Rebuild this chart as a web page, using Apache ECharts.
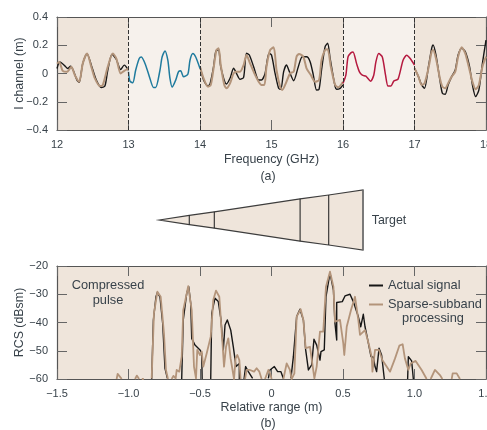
<!DOCTYPE html>
<html>
<head>
<meta charset="utf-8">
<style>
  html, body { margin: 0; padding: 0; background: #fff; }
  #chart { width: 487px; height: 430px; }
</style>
<script src="https://cdn.jsdelivr.net/npm/echarts@6/dist/echarts.min.js"></script>
</head>
<body>
<div id="chart"></div>
<script>
// (a) I channel, [GHz, m]. null breaks the line where the subband is not measured
var actualI = [
  [12,.035],[12.04,.082],[12.11,.054],[12.15,.035],[12.19,.052],[12.23,.019],[12.28,-.047],[12.31,-.063],[12.36,.07],[12.42,.141],
  [12.48,.059],[12.55,-.047],[12.62,-.099],[12.67,-.089],[12.71,.023],[12.77,.136],[12.83,.099],[12.89,.028],[12.94,.059],[13,.023],
  [13.5,null],
  [14,.048],[14.05,-.046],[14.11,-.088],[14.14,-.074],[14.19,.048],[14.22,.155],[14.26,.171],[14.29,.048],[14.37,-.074],[14.42,-.034],
  [14.47,.037],[14.51,.001],[14.56,-.041],[14.61,-.027],[14.65,.143],[14.69,.131],[14.75,.048],[14.82,-.046],[14.86,-.046],[14.91,.001],
  [14.965,.143],[15,.131],[15.05,.001],[15.1,-.105],[15.13,-.112],[15.17,.013],[15.21,.06],[15.25,.013],[15.31,-.051],[15.375,.048],
  [15.43,.119],[15.49,.119],[15.54,.084],[15.585,-.011],[15.63,-.117],[15.665,-.112],[15.7,.025],[15.75,.19],[15.785,.214],[15.82,.107],
  [15.89,-.093],[15.91,-.112],[15.96,-.105],[16,-.081],
  [16.5,null],
  [17,.037],[17.055,-.022],[17.1,-.081],[17.14,-.105],[17.195,.048],[17.24,.178],[17.26,.202],[17.3,.131],[17.355,-.046],[17.39,-.14],
  [17.43,-.147],[17.47,-.081],[17.52,-.022],[17.57,.025],[17.61,.131],[17.66,.178],[17.71,.155],[17.77,.048],[17.81,-.081],[17.855,-.164],
  [17.9,-.117],[17.95,.072],[18,.237]
];
var sparseI = [
  [12,.07],[12.03,.082],[12.08,.019],[12.14,.012],[12.2,.047],[12.25,-.012],[12.31,-.059],[12.36,.07],[12.42,.141],[12.48,.047],
  [12.53,-.035],[12.6,-.089],[12.64,-.082],[12.71,.047],[12.78,.141],[12.83,.106],[12.89,0],[12.94,.019],[13,.035],
  [13.5,null],
  [14,.048],[14.05,-.034],[14.11,-.093],[14.15,-.081],[14.19,.037],[14.23,.166],[14.26,.178],[14.29,.06],[14.34,-.081],[14.37,-.105],
  [14.42,-.07],[14.47,.001],[14.51,.013],[14.56,.013],[14.61,.06],[14.65,.131],[14.7,.072],[14.76,.001],[14.82,-.058],[14.86,-.081],
  [14.9,-.081],[14.93,.048],[14.98,.166],[15.03,.185],[15.07,.025],[15.12,-.093],[15.15,-.117],[15.2,-.07],[15.26,.001],[15.31,.013],
  [15.35,.119],[15.385,.138],[15.445,.119],[15.49,.037],[15.55,-.011],[15.61,-.058],[15.665,-.046],[15.7,.096],[15.75,.166],[15.785,.171],
  [15.83,.048],[15.89,-.081],[15.935,-.098],[16,-.058],
  [16.5,null],
  [17,.037],[17.055,-.022],[17.1,-.081],[17.14,-.07],[17.195,.037],[17.24,.155],[17.26,.166],[17.3,.107],[17.355,-.034],[17.39,-.093],
  [17.43,-.105],[17.47,-.07],[17.52,-.022],[17.57,.013],[17.61,.119],[17.66,.185],[17.71,.143],[17.77,.025],[17.81,-.058],[17.855,-.112],
  [17.9,-.081],[17.95,.048],[18,.119]
];
var subband13 = [
  [13,.012],[13.02,-.054],[13.06,-.066],[13.1,.023],[13.15,.106],[13.18,.117],[13.24,.059],[13.3,-.035],[13.35,-.099],[13.38,-.099],
  [13.44,.023],[13.47,.117],[13.51,.16],[13.55,.094],[13.58,-.035],[13.61,-.096],[13.66,-.047],[13.7,.014],[13.73,.019],[13.77,-.023],
  [13.83,-.005],[13.86,.094],[13.9,.141],[13.94,.117],[14,.035]
];
var subband16 = [
  [16,-.07],[16.04,-.012],[16.07,.117],[16.11,.146],[16.14,.153],[16.19,.07],[16.23,.012],[16.27,-.012],[16.32,-.019],[16.385,-.054],
  [16.43,-.012],[16.46,.082],[16.5,.141],[16.55,.117],[16.595,-.012],[16.63,-.089],[16.67,-.089],[16.71,-.054],[16.77,-.04],[16.84,.094],
  [16.89,.129],[16.94,.106],[17,.059]
];
var lightBands = [[13, 14], [16, 17]];
var bandEdges = [13, 14, 16, 17];

// (b) compressed pulse, [m, dBsm]
var actualRcs = [
  [-.838,-60],[-.826,-39.1],[-.808,-30.9],[-.798,-29.4],[-.78,-30.9],[-.761,-40.3],[-.745,-56.2],[-.728,-59.8],
  [-.68,null],
  [-.628,-60],[-.617,-39.1],[-.593,-29.7],[-.579,-27.3],[-.565,-33.2],[-.558,-45.6],[-.535,-48],[-.5,-49.7],[-.488,-50.9],[-.485,-60],
  [-.45,null],
  [-.425,-60],[-.418,-36.8],[-.395,-31.4],[-.372,-32.6],[-.353,-39.1],[-.337,-49.7],[-.325,-40.9],[-.309,-39.1],[-.285,-42.7],[-.267,-48.6],
  [-.248,-55.6],[-.225,-54.5],[-.225,-60],
  [-.21,null],
  [-.192,-60],[-.181,-55.6],[-.162,-57.4],[-.132,-59.8],
  [-.08,null],
  [-.022,-59.8],[-.0105,-56.8],[.02,-55.6],[.043,-57.4],[.066,-57.4],[.083,-59.8],
  [.1,null],
  [.136,-59.8],[.153,-52.1],[.176,-37.9],[.199,-35.3],[.223,-39.1],[.239,-49.7],[.258,-56.8],[.281,-55],[.297,-45.9],[.316,-48],
  [.339,-53.3],[.346,-50.3],[.369,-49.7],[.381,-30.9],[.409,-22.4],[.433,-28.5],[.444,-40.3],[.456,-46.2],[.456,-32.9],[.495,-32.6],
  [.514,-30.6],[.549,-30],[.572,-32.6],[.607,-37.9],[.624,-41.5],[.642,-37.1],[.654,-41.5],[.666,-44.4],[.696,-52.1],[.712,-52.3],
  [.724,-55.6],[.735,-57.4],[.752,-49.1],[.77,-51.5],[.789,-60],
  [.85,null],
  [.952,-60],[.957,-52.1],[.98,-53.6],[.992,-60]
];
var sparseRcs = [
  [-1.083,-60],[-1.076,-58.2],[-1.055,-59.5],[-1.048,-60],
  [-1,null],
  [-.954,-60],[-.942,-58.8],[-.926,-60],
  [-.915,null],
  [-.907,-60],[-.9,-59.4],[-.893,-60],
  [-.87,null],
  [-.838,-59.8],[-.822,-36.8],[-.798,-29.1],[-.775,-30.9],[-.752,-43.8],[-.738,-56.8],[-.724,-60],
  [-.71,null],
  [-.698,-60],[-.686,-58.9],[-.67,-59.8],[-.663,-56.8],[-.645,-57.4],[-.628,-52.1],[-.617,-35.6],[-.582,-27.1],[-.558,-35.6],[-.542,-55.6],
  [-.528,-59.8],[-.519,-49.7],[-.5,-51.5],[-.488,-50.3],[-.477,-55.6],[-.453,-50.9],[-.425,-45],[-.407,-32],[-.388,-28.7],[-.365,-30.9],
  [-.341,-48.6],[-.332,-55.6],[-.318,-48.6],[-.302,-45.6],[-.286,-52.7],[-.262,-60],[-.251,-52.7],[-.239,-51.5],[-.225,-53.3],[-.216,-60],
  [-.2,null],
  [-.185,-60],[-.174,-56.8],[-.15,-56.8],[-.122,-57.4],[-.104,-56.2],[-.085,-57.4],[-.069,-60],
  [-.055,null],
  [-.045,-60],[-.022,-56.8],[-.01,-58],[.001,-60],
  [.04,null],
  [.083,-60],[.106,-54.5],[.129,-56.8],[.141,-60],[.16,-58],[.176,-37.9],[.204,-35.3],[.223,-39.1],[.239,-49.1],[.269,-48.6],
  [.3,-59.8],[.316,-55.6],[.339,-43.2],[.362,-43.2],[.381,-27.3],[.409,-22],[.433,-27.3],[.444,-39.7],[.479,-39.1],[.502,-47.4],
  [.509,-51.5],[.526,-41.5],[.556,-35.6],[.584,-30.9],[.607,-39.1],[.619,-44.4],[.654,-42.7],[.682,-48],[.701,-52.3],[.706,-57.4],
  [.724,-49.7],[.752,-49.7],[.775,-53.3],[.805,-55.6],[.829,-57.4],[.864,-52.7],[.894,-48.2],[.917,-47.7],[.933,-52.7],[.957,-56.8],
  [.973,-54.5],[1.008,-53.6],[1.05,-56.8],[1.085,-60],
  [1.1,null],
  [1.113,-60],[1.143,-56.8],[1.178,-58.6],[1.195,-60],
  [1.23,null],
  [1.26,-60],[1.267,-58],[1.295,-58],[1.318,-60]
];

// target wedge, [range m, half width]
var targetSections = [[-.785,0],[-.575,4.7],[-.4,8.2],[.2,21.2],[.4,25],[.64,30]];

var FONT = "Liberation Sans";
var TEXT = "#38424a";
var FRAME = "#555";
var BLACK = "#161616";
var TAN = "#b3947a";
var BLUE = "#1f7b9e";
var RED = "#b5193f";
var DARK_BG = "#efe5db";
var LIGHT_BG = "#f6f1ec";

function dash(v) {
  return String(v).replace("-", "\u2212");
}

function fixedLabel(v) {
  return v === 0 ? "0" : dash(v.toFixed(1));
}

function plotXAxis(gridIndex, min, max, interval, name, gap, fmt) {
  return [
    {
      type: "value", gridIndex: gridIndex, min: min, max: max, interval: interval, z: 3,
      name: name, nameLocation: "middle", nameGap: gap, nameMoveOverlap: false,
      nameTextStyle: { fontFamily: FONT, fontSize: 12.4, color: TEXT },
      splitLine: { show: false },
      axisLine: { onZero: false, lineStyle: { color: FRAME, width: 1.2 } },
      axisTick: { inside: true, length: 10, lineStyle: { color: "#666" } },
      axisLabel: { fontFamily: FONT, fontSize: 11, color: TEXT, margin: 9, formatter: fmt, hideOverlap: false,
        showMinLabel: true, showMaxLabel: true }
    },
    {
      type: "value", gridIndex: gridIndex, position: "top", min: min, max: max, interval: interval, z: 3,
      splitLine: { show: false },
      axisLine: { onZero: false, lineStyle: { color: FRAME, width: 1.2 } },
      axisTick: { inside: true, length: 10, lineStyle: { color: "#666" } },
      axisLabel: { show: false }
    }
  ];
}

function plotYAxis(gridIndex, min, max, interval, name, gap, fmt) {
  return [
    {
      type: "value", gridIndex: gridIndex, min: min, max: max, interval: interval, z: 3,
      name: name, nameLocation: "middle", nameGap: gap, nameMoveOverlap: false,
      nameTextStyle: { fontFamily: FONT, fontSize: 12.4, color: TEXT },
      splitLine: { show: false },
      axisLine: { show: true, onZero: false, lineStyle: { color: FRAME, width: 1.2 } },
      axisTick: { inside: true, length: 10, lineStyle: { color: "#666" } },
      axisLabel: { fontFamily: FONT, fontSize: 11, color: TEXT, margin: 9, formatter: fmt }
    },
    {
      type: "value", gridIndex: gridIndex, position: "right", min: min, max: max, interval: interval, z: 3,
      splitLine: { show: false },
      axisLine: { show: true, onZero: false, lineStyle: { color: FRAME, width: 1.2 } },
      axisTick: { inside: true, length: 10, lineStyle: { color: "#666" } },
      axisLabel: { show: false }
    }
  ];
}

function lineSeries(name, data, color, width, xIndex, yIndex, extra) {
  return Object.assign({
    name: name, type: "line", data: data, xAxisIndex: xIndex, yAxisIndex: yIndex,
    showSymbol: false, symbol: "none", connectNulls: false, clip: true,
    lineStyle: { color: color, width: width, join: "round" },
    itemStyle: { color: color }
  }, extra || {});
}

function renderTarget(params, api) {
  var sections = targetSections;
  var i = params.dataIndex;
  var r = api.value(0), h = api.value(1);
  var top = api.coord([r, h]), bottom = api.coord([r, -h]);
  var children = [];
  if (i === 0) {
    var upper = sections.map(function (s) { return api.coord([s[0], s[1]]); });
    var lower = sections.slice().reverse().map(function (s) { return api.coord([s[0], -s[1]]); });
    children.push({
      type: "polygon", shape: { points: upper.concat(lower) },
      style: { fill: DARK_BG, stroke: "#3d3d3d", lineWidth: 1.2 }
    });
  } else {
    children.push({
      type: "line", z2: 2, shape: { x1: top[0], y1: top[1], x2: bottom[0], y2: bottom[1] },
      style: { stroke: i === sections.length - 1 ? "#777" : "#2b2b2b", lineWidth: i === sections.length - 1 ? 1.5 : 1.1 }
    });
  }
  return { type: "group", children: children };
}

function label(text, x, y, size) {
  return {
    type: "text", x: x, y: y, silent: true,
    style: { text: text, fill: TEXT, font: (size || 12.4) + "px '" + FONT + "'", textAlign: "center", textVerticalAlign: "middle" }
  };
}

var xAxes = plotXAxis(0, 12, 18, 1, "Frequency (GHz)", 24, function (v) { return String(v); })
  .concat(plotXAxis(1, -1.5, 1.5, .5, "Relative range (m)", 23, fixedLabel))
  .concat([{ type: "value", gridIndex: 2, min: -1.5, max: 1.5, show: false, splitLine: { show: false } }]);
var yAxes = plotYAxis(0, -.4, .4, .2, "I channel (m)", 31, fixedLabel)
  .concat(plotYAxis(1, -60, -20, 10, "RCS (dBsm)", 31, function (v) { return dash(v); }))
  .concat([{ type: "value", gridIndex: 2, min: -35, max: 35, show: false, splitLine: { show: false } }]);

var chart = echarts.init(document.getElementById("chart"), null, { renderer: "canvas" });
chart.setOption({
  animation: false,
  backgroundColor: "#fff",
  textStyle: { fontFamily: FONT },
  grid: [
    { left: 57, top: 17, width: 429, height: 113, show: true, backgroundColor: DARK_BG, borderWidth: 0, outerBoundsMode: "none" },
    { left: 57, top: 266, width: 429, height: 113, show: true, backgroundColor: DARK_BG, borderWidth: 0, outerBoundsMode: "none" },
    { left: 57, top: 185, width: 429, height: 70, outerBoundsMode: "none" }
  ],
  xAxis: xAxes,
  yAxis: yAxes,
  legend: {
    left: 369, top: 279, padding: 0, orient: "vertical", itemWidth: 14, itemHeight: 2, itemGap: 6, icon: "rect",
    data: ["Actual signal", "Sparse-subband processing"],
    selectedMode: false,
    formatter: function (name) { return name.split(" ")[0] === "Sparse-subband" ? "Sparse-subband" : name; },
    textStyle: { fontFamily: FONT, fontSize: 12.8, color: TEXT }
  },
  graphic: [
    label("(a)", 268, 177),
    label("Target", 389, 221),
    label("Compressed", 108, 285, 12.8),
    label("pulse", 108, 300, 12.8),
    label("processing", 433, 318, 12.8),
    label("(b)", 268, 424)
  ],
  series: [
    lineSeries("Actual signal", actualI, BLACK, 1.4, 0, 0, {
      smooth: .25,
      markArea: {
        silent: true,
        itemStyle: { color: LIGHT_BG },
        data: lightBands.map(function (b) { return [{ xAxis: b[0] }, { xAxis: b[1] }]; })
      },
      markLine: {
        silent: true, symbol: "none", label: { show: false },
        lineStyle: { color: "#333", type: "dashed", width: 1 },
        data: bandEdges.map(function (f) { return { xAxis: f }; })
      }
    }),
    lineSeries("Sparse-subband processing", sparseI, TAN, 2, 0, 0, { smooth: .25 }),
    lineSeries("Subband 13-14 GHz", subband13, BLUE, 1.5, 0, 0, { smooth: .25 }),
    lineSeries("Subband 16-17 GHz", subband16, RED, 1.5, 0, 0, { smooth: .25 }),
    lineSeries("Actual signal", actualRcs, BLACK, 1.4, 2, 2),
    lineSeries("Sparse-subband processing", sparseRcs, TAN, 1.8, 2, 2),
    {
      type: "custom", name: "Target", xAxisIndex: 4, yAxisIndex: 4,
      coordinateSystem: "cartesian2d", clip: false, silent: true,
      encode: { x: 0, y: 1 },
      data: targetSections, renderItem: renderTarget
    }
  ]
});
</script>
</body>
</html>
